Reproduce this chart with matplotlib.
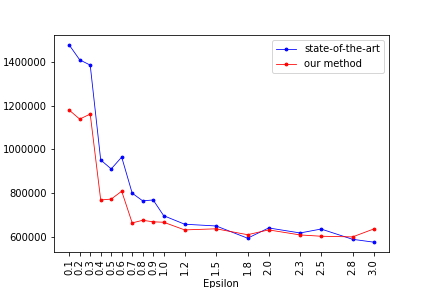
import numpy as np
import matplotlib
matplotlib.use('Agg')
import matplotlib.pyplot as plt
import matplotlib.ticker as mticker


EPSILON = [0.1, 0.2, 0.3, 0.4, 0.5, 0.6, 0.7, 0.8, 0.9, 1.0,
           1.2, 1.5, 1.8, 2.0, 2.3, 2.5, 2.8, 3.0]
STATE_OF_THE_ART = [1478000, 1410000, 1386000, 952000, 911000, 965000, 800000, 765000, 769000, 697000,
                    658000, 650000, 594000, 641000, 618000, 636000, 589000, 576000]
OUR_METHOD = [1180000, 1139000, 1162000, 769000, 773000, 809000, 664000, 676000, 669000, 667000,
              632000, 637000, 610000, 632000, 609000, 603000, 600000, 636000]


fig, ax = plt.subplots(figsize=(6, 4), dpi=72)
fig.subplots_adjust(left=0.125, right=0.9, top=0.878, bottom=0.125)

ax.plot(EPSILON, STATE_OF_THE_ART, 'o-', color='blue', linewidth=0.8, markersize=2.8,
        label='state-of-the-art')
ax.plot(EPSILON, OUR_METHOD, 'o-', color='red', linewidth=0.8, markersize=2.8,
        label='our method')

ax.set_xticks(EPSILON)
ax.set_xticklabels([f'{e:.1f}' for e in EPSILON], rotation=90)
ax.yaxis.set_major_formatter(mticker.FormatStrFormatter('%d'))
ax.set_xlabel('Epsilon', labelpad=4)
ax.legend(loc='upper right')

fig.savefig('out.png', dpi=72)
